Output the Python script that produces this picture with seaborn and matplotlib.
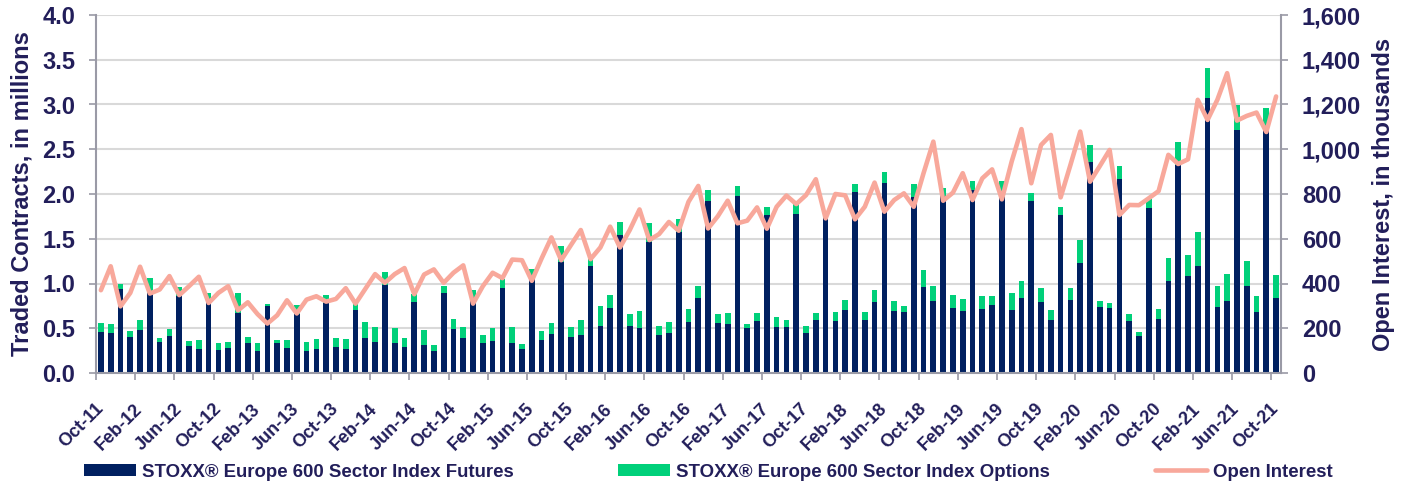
import numpy as np
import pandas as pd
import seaborn as sns
import matplotlib.pyplot as plt
from matplotlib.patches import Patch
from matplotlib.lines import Line2D
from matplotlib.ticker import FuncFormatter

# monthly data, Oct-11 .. Oct-21
months = pd.date_range('2011-10-01', periods=121, freq='MS').strftime('%b-%y').tolist()

# traded contracts, in millions
futures = [
    0.46, 0.45, 0.94, 0.40, 0.485, 0.89, 0.35, 0.41, 0.86, 0.30, 0.265, 0.79,
    0.26, 0.28, 0.675, 0.33, 0.245, 0.75, 0.335, 0.28, 0.66, 0.25, 0.27, 0.78,
    0.29, 0.27, 0.705, 0.39, 0.35, 0.98, 0.33, 0.29, 0.79, 0.31, 0.25, 0.89,
    0.49, 0.39, 0.85, 0.33, 0.355, 0.95, 0.33, 0.27, 1.10, 0.365, 0.44, 1.24,
    0.40, 0.425, 1.20, 0.53, 0.73, 1.54, 0.52, 0.50, 1.46, 0.425, 0.45, 1.58,
    0.57, 0.84, 1.925, 0.56, 0.545, 1.98, 0.50, 0.58, 1.765, 0.515, 0.515, 1.775,
    0.45, 0.59, 1.73, 0.58, 0.70, 2.02, 0.59, 0.795, 2.12, 0.69, 0.68, 1.97,
    0.96, 0.81, 1.98, 0.73, 0.69, 2.045, 0.71, 0.76, 1.97, 0.70, 0.84, 1.925,
    0.79, 0.59, 1.76, 0.82, 1.23, 2.355, 0.74, 0.73, 2.17, 0.58, 0.41, 1.84,
    0.60, 1.03, 2.32, 1.085, 1.20, 3.075, 0.74, 0.81, 2.72, 0.97, 0.68, 2.74,
    0.84,
]
options = [
    0.10, 0.10, 0.05, 0.07, 0.105, 0.17, 0.04, 0.08, 0.10, 0.06, 0.10, 0.10,
    0.08, 0.07, 0.22, 0.07, 0.09, 0.02, 0.03, 0.09, 0.10, 0.10, 0.11, 0.09,
    0.10, 0.11, 0.105, 0.185, 0.165, 0.15, 0.17, 0.105, 0.09, 0.175, 0.06, 0.08,
    0.11, 0.12, 0.08, 0.10, 0.145, 0.095, 0.185, 0.05, 0.06, 0.10, 0.12, 0.18,
    0.11, 0.165, 0.07, 0.22, 0.14, 0.15, 0.14, 0.19, 0.22, 0.095, 0.12, 0.14,
    0.14, 0.13, 0.12, 0.10, 0.125, 0.11, 0.045, 0.085, 0.09, 0.115, 0.075, 0.125,
    0.08, 0.08, 0.01, 0.10, 0.12, 0.09, 0.09, 0.135, 0.13, 0.11, 0.07, 0.14,
    0.19, 0.16, 0.09, 0.14, 0.14, 0.105, 0.145, 0.105, 0.17, 0.19, 0.19, 0.085,
    0.16, 0.11, 0.10, 0.13, 0.255, 0.195, 0.07, 0.05, 0.14, 0.08, 0.045, 0.10,
    0.11, 0.25, 0.26, 0.235, 0.38, 0.335, 0.23, 0.30, 0.27, 0.28, 0.18, 0.22,
    0.26,
]
# open interest, in thousands
open_interest = [
    370, 477, 298, 358, 475, 355, 373, 433, 348, 388, 430, 313,
    358, 388, 280, 316, 263, 221, 258, 325, 266, 328, 343, 319,
    331, 379, 310, 376, 442, 403, 442, 469, 352, 440, 463, 403,
    448, 481, 310, 388, 448, 424, 507, 504, 412, 512, 606, 504,
    572, 639, 509, 561, 654, 561, 639, 731, 594, 621, 675, 636,
    765, 836, 646, 701, 770, 669, 681, 740, 645, 743, 793, 755,
    795, 866, 691, 800, 794, 687, 743, 851, 721, 773, 803, 743,
    893, 1034, 770, 806, 893, 773, 870, 910, 776, 945, 1090, 848,
    1019, 1064, 785, 930, 1079, 855, 925, 997, 706, 751, 750, 781,
    813, 975, 934, 955, 1221, 1131, 1221, 1340, 1128, 1149, 1164, 1077,
    1236,
]

NAVY = '#002060'
GREEN = '#00D07A'
PINK = '#F8A89B'
TEXT = '#221E5A'
GREY = '#9A9AA6'

df = pd.DataFrame({'month': months, 'futures': futures, 'options': options})
df['total'] = df['futures'] + df['options']

sns.set_theme(style='white')
plt.rcParams['font.family'] = ['Liberation Sans', 'DejaVu Sans']
plt.rcParams['font.weight'] = 'bold'

fig = plt.figure(figsize=(14.02, 4.86), dpi=100)
ax = fig.add_axes([96 / 1402, 113 / 486, 1185 / 1402, 358 / 486])

# stacked bars: total (green) with futures (navy) drawn over it
sns.barplot(data=df, x='month', y='total', color=GREEN, width=0.58,
            saturation=1, errorbar=None, linewidth=0, ax=ax)
sns.barplot(data=df, x='month', y='futures', color=NAVY, width=0.58,
            saturation=1, errorbar=None, linewidth=0, ax=ax)

ax2 = ax.twinx()
sns.lineplot(x=np.arange(len(months)), y=open_interest, color=PINK, lw=3.3,
             ax=ax2)

ax.set_ylim(0, 4.0)
ax.set_yticks(np.arange(0, 4.01, 0.5))
ax.yaxis.set_major_formatter(FuncFormatter(lambda v, p: f'{v:.1f}'))
ax2.set_ylim(0, 1600)
ax2.set_yticks(range(0, 1601, 200))
ax2.yaxis.set_major_formatter(FuncFormatter(lambda v, p: f'{v:,.0f}'))
ax.set_xlim(-0.5, len(months) - 0.5)

ax.set_axisbelow(True)
ax.yaxis.grid(True, color='#D9D9D9', lw=1.5)
ax.xaxis.grid(False)

# x ticks: label every 4th month, tick marks at category boundaries
ax.set_xticks(range(0, len(months), 4))
ax.set_xticklabels(months[::4], rotation=45, ha='right', va='center',
                   rotation_mode='anchor', fontsize=13, color=TEXT,
                   fontweight='bold')
ax.set_xticks(np.arange(-0.5, len(months), 4), minor=True)
ax.tick_params(axis='x', which='major', length=0, pad=24)
ax.tick_params(axis='x', which='minor', length=5, width=1.2, color=GREY,
               direction='out', bottom=True)
ax.tick_params(axis='y', length=5, width=1.2, color=GREY, direction='out',
               left=True, pad=10, labelsize=17, labelcolor=TEXT)
ax2.tick_params(axis='y', length=5, width=1.2, color=GREY, direction='out',
                right=True, pad=10, labelsize=17, labelcolor=TEXT)
for lab in ax.get_yticklabels() + ax2.get_yticklabels():
    lab.set_fontweight('bold')

for a in (ax, ax2):
    a.spines['top'].set_visible(False)
ax.spines['right'].set_visible(False)
ax2.spines['left'].set_visible(False)
ax2.spines['bottom'].set_visible(False)
for s in (ax.spines['left'], ax.spines['bottom'], ax2.spines['right']):
    s.set_color(GREY)
    s.set_linewidth(1.5)

ax.set_xlabel('')
ax.set_ylabel('Traded Contracts, in millions', fontsize=17, color=TEXT,
              fontweight='bold')
ax.yaxis.set_label_coords(-0.053, 0.5)
ax2.set_ylabel('Open Interest, in thousands', fontsize=17, color=TEXT,
               fontweight='bold')
ax2.yaxis.set_label_coords(1.077, 0.5)

handles = [
    Patch(facecolor=NAVY, edgecolor='none'),
    Patch(facecolor=GREEN, edgecolor='none'),
    Line2D([], [], color=PINK, lw=3.3),
]
labels = ['STOXX® Europe 600 Sector Index Futures',
          'STOXX® Europe 600 Sector Index Options',
          'Open Interest']
fig.legend(handles, labels, ncol=3, loc='center left',
           bbox_to_anchor=(84 / 1402, 1 - 472 / 486), frameon=False,
           borderpad=0, borderaxespad=0, handlelength=2.8, handleheight=0.65,
           handletextpad=0.33, columnspacing=5.6,
           prop={'size': 13.4, 'weight': 'bold'}, labelcolor=TEXT)

fig.savefig('out.png', dpi=100)
